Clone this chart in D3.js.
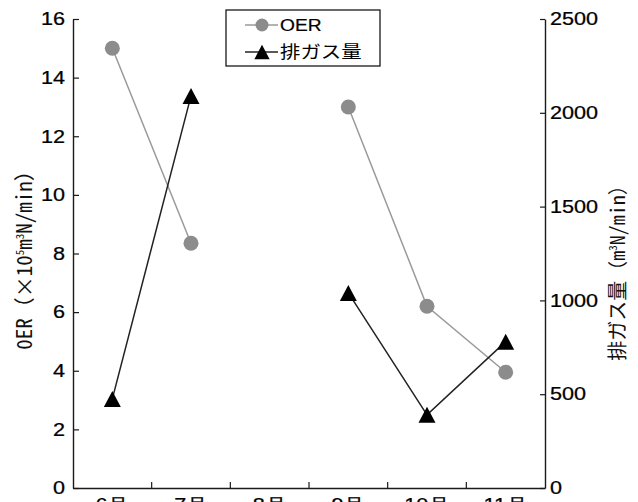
<!DOCTYPE html>
<html>
<head>
<meta charset="utf-8">
<script src="https://cdn.jsdelivr.net/npm/d3@7"></script>
<style>
body { margin: 0; background: #fff; }
svg { display: block; }
</style>
</head>
<body>
<svg id="chart" width="638" height="502"></svg>
<script>
var months = ["6月", "7月", "8月", "9月", "10月", "11月"];
var oerValues = [15.0, 8.35, null, 13.0, 6.2, 3.95];   // ×10^5 m3N/min
var gasValues = [475, 2090, null, 1040, 390, 780];     // m3N/min
var oerTicks = [0, 2, 4, 6, 8, 10, 12, 14, 16];
var gasTicks = [0, 500, 1000, 1500, 2000, 2500];

var margin = {top: 19, right: 93, bottom: 14, left: 73};
var width = 638 - margin.left - margin.right;
var height = 502 - margin.top - margin.bottom;
var SX = 1.2; // the original figure is stretched sideways a bit
var numFont = "'Liberation Sans', Arial, sans-serif";
var jpFont = "'Noto Sans CJK JP', sans-serif";
var monoFont = "'Noto Sans Mono CJK JP', 'Noto Sans CJK JP', monospace";

var svg = d3.select("#chart");
var g = svg.append("g")
    .attr("transform", "translate(" + margin.left + "," + margin.top + ")");

var x = d3.scaleBand().domain(months).range([0, width]);
var yL = d3.scaleLinear().domain([0, 16]).range([height, 0]);
var yR = d3.scaleLinear().domain([0, 2500]).range([height, 0]);

function cx(i) { return x(months[i]) + x.bandwidth() / 2; }

// widen text horizontally without moving its anchor
function stretch(sel) {
    sel.each(function() {
        var t = d3.select(this);
        var tx = +t.attr("x") || 0;
        t.attr("x", tx / SX).attr("transform", "scale(" + SX + ",1)");
    });
}

// axes
var axL = g.append("g")
    .call(d3.axisLeft(yL).tickValues(oerTicks).tickSizeInner(-6).tickSizeOuter(0).tickPadding(8));
var axR = g.append("g")
    .attr("transform", "translate(" + width + ",0)")
    .call(d3.axisRight(yR).tickValues(gasTicks).tickFormat(d3.format("d"))
        .tickSizeInner(-5).tickSizeOuter(0).tickPadding(5));
var axB = g.append("g")
    .attr("transform", "translate(0," + height + ")")
    .call(d3.axisBottom(x).tickSizeInner(0).tickSizeOuter(0).tickPadding(10));

[axL, axR, axB].forEach(function(ax) {
    ax.attr("font-family", null).attr("font-size", null);
    ax.select(".domain").attr("stroke", "#1a1a1a").attr("stroke-width", 1.4);
    ax.selectAll(".tick line").attr("stroke", "#1a1a1a").attr("stroke-width", 1.2);
    ax.selectAll(".tick text")
        .attr("fill", "#000")
        .attr("stroke", "#000")
        .attr("stroke-width", 0.25)
        .style("font-family", numFont)
        .style("font-size", "18px")
        .call(stretch);
});

// bottom ticks sit between the months
g.selectAll("line.xtick")
    .data(months.slice(1))
    .enter()
    .append("line")
    .attr("class", "xtick")
    .attr("x1", function(d) { return x(d); })
    .attr("x2", function(d) { return x(d); })
    .attr("y1", height)
    .attr("y2", height - 6)
    .attr("stroke", "#1a1a1a")
    .attr("stroke-width", 1.2);

// series
var lineOER = d3.line()
    .defined(function(d) { return d != null; })
    .x(function(d, i) { return cx(i); })
    .y(function(d) { return yL(d); });
var lineGas = d3.line()
    .defined(function(d) { return d != null; })
    .x(function(d, i) { return cx(i); })
    .y(function(d) { return yR(d); });

g.append("path")
    .datum(oerValues)
    .attr("d", lineOER)
    .attr("fill", "none")
    .attr("stroke", "#9a9a9a")
    .attr("stroke-width", 1.5);

g.append("path")
    .datum(gasValues)
    .attr("d", lineGas)
    .attr("fill", "none")
    .attr("stroke", "#222")
    .attr("stroke-width", 1.5);

var tri = "M0,-8L8.5,8L-8.5,8Z";

g.selectAll("circle.oer")
    .data(oerValues.map(function(v, i) { return {i: i, v: v}; }).filter(function(d) { return d.v != null; }))
    .enter()
    .append("circle")
    .attr("class", "oer")
    .attr("cx", function(d) { return cx(d.i); })
    .attr("cy", function(d) { return yL(d.v); })
    .attr("r", 7.5)
    .attr("fill", "#8c8c8c");

g.selectAll("path.gas")
    .data(gasValues.map(function(v, i) { return {i: i, v: v}; }).filter(function(d) { return d.v != null; }))
    .enter()
    .append("path")
    .attr("class", "gas")
    .attr("d", tri)
    .attr("transform", function(d) { return "translate(" + cx(d.i) + "," + yR(d.v) + ")"; })
    .attr("fill", "#000");

// axis titles
var tL = svg.append("text")
    .attr("transform", "translate(32,255) rotate(-90)")
    .attr("text-anchor", "middle")
    .style("font-family", monoFont)
    .style("font-size", "21px")
    .attr("fill", "#111");
tL.append("tspan").text("0ER（×10");
tL.append("tspan").attr("dy", -8).style("font-size", "11px").text("5");
tL.append("tspan").attr("dy", 8).text("m");
tL.append("tspan").attr("dy", -8).style("font-size", "11px").text("3");
tL.append("tspan").attr("dy", 8).text("N/min）");

var tR = svg.append("text")
    .attr("transform", "translate(625,268) rotate(-90)")
    .attr("text-anchor", "middle")
    .style("font-family", monoFont)
    .style("font-size", "20px")
    .attr("fill", "#111");
tR.append("tspan").attr("fill", "#111").style("font-family", jpFont).style("font-size", "20px").text("排ガス量");
tR.append("tspan").text("（m");
tR.append("tspan").attr("dy", -8).style("font-size", "11px").text("3");
tR.append("tspan").attr("dy", 8).text("N/min）");

// legend
var leg = svg.append("g");
leg.append("rect")
    .attr("x", 226).attr("y", 10)
    .attr("width", 154).attr("height", 56)
    .attr("fill", "#fff")
    .attr("stroke", "#1a1a1a")
    .attr("stroke-width", 1.3);
leg.append("line")
    .attr("x1", 245).attr("x2", 278).attr("y1", 25).attr("y2", 25)
    .attr("stroke", "#9a9a9a").attr("stroke-width", 1.5);
leg.append("circle")
    .attr("cx", 262).attr("cy", 25).attr("r", 6.5)
    .attr("fill", "#8c8c8c");
leg.append("line")
    .attr("x1", 245).attr("x2", 278).attr("y1", 52).attr("y2", 52)
    .attr("stroke", "#222").attr("stroke-width", 1.5);
leg.append("path")
    .attr("d", tri)
    .attr("transform", "translate(262,52) scale(0.9)")
    .attr("fill", "#000");
leg.append("text")
    .attr("x", 280).attr("y", 31)
    .style("font-family", numFont)
    .style("font-size", "16px")
    .attr("fill", "#000")
    .attr("stroke", "#000")
    .attr("stroke-width", 0.2)
    .text("OER")
    .call(stretch);
leg.append("text")
    .attr("x", 280).attr("y", 58)
    .style("font-family", jpFont)
    .style("font-size", "17px")
    .attr("fill", "#000")
    .text("排ガス量")
    .call(stretch);
</script>
</body>
</html>
